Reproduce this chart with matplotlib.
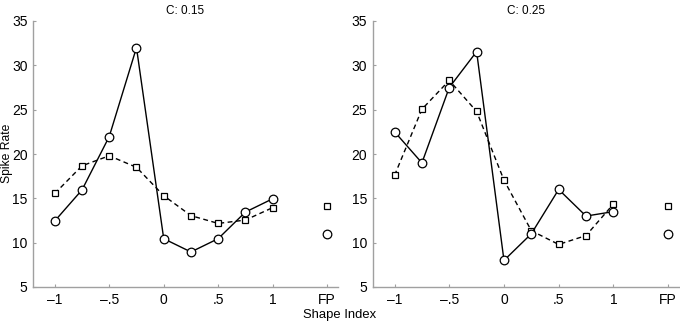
import matplotlib
matplotlib.use("Agg")
import matplotlib.pyplot as plt

plt.rcParams['font.family'] = ['Liberation Sans', 'DejaVu Sans']

x_vals = [-1, -0.75, -0.5, -0.25, 0, 0.25, 0.5, 0.75, 1]
fp_x = 1.5
xtick_pos = [-1, -0.5, 0, 0.5, 1, 1.5]
xtick_labels = ['\u20131', '\u2013.5', '0', '.5', '1', 'FP']
yticks = [5, 10, 15, 20, 25, 30, 35]
titles = ['C: 0.15', 'C: 0.25']

circ_015 = [12.45, 15.95, 21.97, 32.0, 10.45, 8.95, 10.45, 13.45, 14.95]
sq_015 = [15.55, 18.67, 19.8, 18.5, 15.3, 13.05, 12.17, 12.55, 13.95]
circ_fp_015 = 10.97
sq_fp_015 = 14.08

circ_025 = [22.5, 19.0, 27.5, 31.55, 8.0, 11.0, 16.0, 13.0, 13.5]
sq_025 = [17.6, 25.05, 28.3, 24.8, 17.05, 11.35, 9.8, 10.8, 14.35]
circ_fp_025 = 11.0
sq_fp_025 = 14.1

fig = plt.figure(figsize=(6.8, 3.24), dpi=100)
positions = [[33/680, 1-287/324, (338-33)/680, (287-21)/324],
             [372.7/680, 1-287/324, (679-372.7)/680, (287-21)/324]]
data = [(circ_015, sq_015, circ_fp_015, sq_fp_015),
        (circ_025, sq_025, circ_fp_025, sq_fp_025)]

for i, (pos, (c, s, cfp, sfp)) in enumerate(zip(positions, data)):
    ax = fig.add_axes(pos)
    ax.plot(x_vals, s, '--', color='black', lw=1.0, marker='s', ms=4.2,
            mfc='white', mec='black', mew=0.9, dashes=(3.5, 2.5), zorder=2)
    ax.plot(x_vals, c, '-', color='black', lw=1.0, marker='o', ms=6.2,
            mfc='white', mec='black', mew=0.9, zorder=3)
    ax.plot([fp_x], [sfp], ls='none', marker='s', ms=4.2, mfc='white', mec='black', mew=0.9)
    ax.plot([fp_x], [cfp], ls='none', marker='o', ms=6.2, mfc='white', mec='black', mew=0.9)
    ax.set_xlim(-1.2, 1.6)
    ax.set_ylim(5, 35)
    ax.set_xticks(xtick_pos)
    ax.set_xticklabels(xtick_labels)
    ax.set_yticks(yticks)
    for sp in ['top', 'right']:
        ax.spines[sp].set_visible(False)
    for sp in ['left', 'bottom']:
        ax.spines[sp].set_color('#a0a0a0')
        ax.spines[sp].set_linewidth(1.0)
    ax.tick_params(direction='in', length=2.5, width=0.8, color='#a0a0a0',
                   labelsize=10, pad=4)
    ax.set_title(titles[i], fontsize=8.5, pad=5)

fig.text(7/680, 1-153/324, 'Spike Rate', ha='center', va='center',
         rotation=90, fontsize=8.7)
fig.text(340/680, 1-315/324, 'Shape Index', ha='center', va='center', fontsize=9.4)
fig.savefig('out.png', dpi=100)
